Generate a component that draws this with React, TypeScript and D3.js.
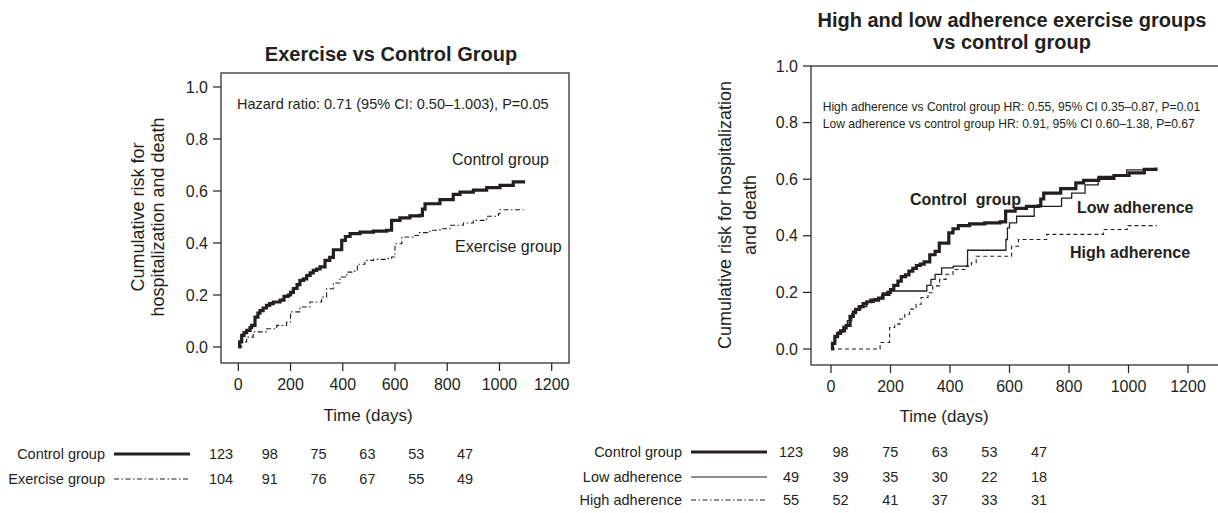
import React from 'react';
import * as d3 from 'd3';

// time axis (days) and risk axis
const dayTicks = [0, 200, 400, 600, 800, 1000, 1200];
const riskTicks = [0, 0.2, 0.4, 0.6, 0.8, 1.0];

// Kaplan-Meier style cumulative risk, [day, risk]
const controlCurve: [number, number][] = [
    [0, 0], [5, 0.02], [13, 0.045], [22, 0.055], [32, 0.064], [45, 0.075], [51, 0.083],
    [64, 0.115], [75, 0.13], [83, 0.14], [95, 0.15], [108, 0.16], [120, 0.167], [134, 0.173],
    [160, 0.18], [175, 0.195], [191, 0.2], [200, 0.21], [211, 0.225], [225, 0.24], [236, 0.256],
    [250, 0.262], [262, 0.275], [275, 0.285], [287, 0.295], [300, 0.3], [313, 0.308],
    [332, 0.333], [350, 0.345], [364, 0.374], [396, 0.41], [410, 0.425], [428, 0.436],
    [466, 0.442], [517, 0.446], [568, 0.449], [587, 0.487], [619, 0.497], [657, 0.504],
    [696, 0.506], [705, 0.53], [715, 0.551], [772, 0.567], [823, 0.587], [849, 0.596],
    [900, 0.603], [951, 0.613], [1002, 0.622], [1053, 0.635], [1092, 0.641]
];

const exerciseCurve: [number, number][] = [
    [0, 0], [13, 0.019], [32, 0.038], [57, 0.058], [109, 0.07], [147, 0.083], [185, 0.096],
    [200, 0.135], [236, 0.154], [274, 0.173], [319, 0.192], [338, 0.224], [364, 0.246],
    [389, 0.269], [415, 0.288], [440, 0.292], [456, 0.318], [485, 0.333], [517, 0.337],
    [568, 0.34], [587, 0.346], [600, 0.397], [626, 0.423], [670, 0.429], [689, 0.44],
    [734, 0.449], [772, 0.455], [811, 0.468], [862, 0.477], [900, 0.487], [951, 0.503],
    [996, 0.513], [1002, 0.528], [1092, 0.528]
];

const lowAdherenceCurve: [number, number][] = [
    [0, 0], [5, 0.02], [12, 0.04], [25, 0.06], [40, 0.08], [55, 0.1], [70, 0.125], [85, 0.14],
    [100, 0.15], [120, 0.165], [145, 0.178], [170, 0.19], [198, 0.205], [322, 0.225],
    [336, 0.246], [350, 0.264], [372, 0.287], [411, 0.293], [459, 0.349], [588, 0.387],
    [593, 0.428], [600, 0.446], [624, 0.469], [683, 0.504], [775, 0.533], [809, 0.551],
    [854, 0.58], [898, 0.61], [994, 0.633], [1095, 0.635]
];

const highAdherenceCurve: [number, number][] = [
    [0, 0], [165, 0.023], [197, 0.076], [214, 0.088], [231, 0.106], [248, 0.123], [264, 0.141],
    [286, 0.158], [303, 0.182], [326, 0.199], [342, 0.223], [365, 0.246], [387, 0.264],
    [410, 0.281], [455, 0.293], [472, 0.305], [488, 0.328], [607, 0.363], [630, 0.387],
    [725, 0.405], [916, 0.422], [996, 0.436], [1095, 0.436]
];

// numbers at risk
const riskColumns = ['0', '200', '400', '600', '800', '1000'];
const controlAtRisk = [123, 98, 75, 63, 53, 47];
const exerciseAtRisk = [104, 91, 76, 67, 55, 49];
const lowAtRisk = [49, 39, 35, 30, 22, 18];
const highAtRisk = [55, 52, 41, 37, 33, 31];

const ink = '#231f20';
const font = '"Liberation Sans", Arial, Helvetica, sans-serif';
const dashDot = '5,2.5,1.5,2.5';

const Axes = ({ x, y, box, tickY }) => (
    <g>
        <rect x={box.left} y={box.top} width={box.right - box.left} height={box.bottom - box.top}
            fill="none" stroke={ink} strokeWidth={1.2} />
        {riskTicks.map(t => (
            <g key={t}>
                <line x1={box.left - 8} x2={box.left} y1={y(t)} y2={y(t)} stroke={ink} strokeWidth={1.2} />
                <text x={box.left - 13} y={y(t) + 5.5} textAnchor="end" fontSize={16}>{t.toFixed(1)}</text>
            </g>
        ))}
        {dayTicks.map(t => (
            <g key={t}>
                <line x1={x(t)} x2={x(t)} y1={box.bottom} y2={box.bottom + 8} stroke={ink} strokeWidth={1.2} />
                <text x={x(t)} y={tickY} textAnchor="middle" fontSize={16}>{t}</text>
            </g>
        ))}
    </g>
);

const AtRiskRow = ({ label, values, cols, labelX, y, dash, width }) => (
    <g>
        <text x={labelX} y={y + 5} textAnchor="end" fontSize={14.5}>{label}</text>
        <line x1={labelX + 9} x2={labelX + 85} y1={y} y2={y} stroke={ink}
            strokeWidth={width} strokeDasharray={dash} />
        {values.map((v, i) => (
            <text key={i} x={cols(riskColumns[i])} y={y + 5} textAnchor="middle" fontSize={14.5}>{v}</text>
        ))}
    </g>
);

export default function App() {
    // left panel
    const xL = d3.scaleLinear().domain([0, 1200]).range([238.3, 551.7]);
    const yL = d3.scaleLinear().domain([0, 1]).range([347, 87]);
    const boxL = { left: 221, right: 569, top: 73, bottom: 363 };
    const lineL = d3.line<[number, number]>().x(d => xL(d[0])).y(d => yL(d[1])).curve(d3.curveStepAfter);

    // right panel
    const xR = d3.scaleLinear().domain([0, 1200]).range([831, 1188]);
    const yR = d3.scaleLinear().domain([0, 1]).range([349, 66]);
    const boxR = { left: 811, right: 1240, top: 66, bottom: 365 };
    const lineR = d3.line<[number, number]>().x(d => xR(d[0])).y(d => yR(d[1])).curve(d3.curveStepAfter);

    const colsL = d3.scalePoint().domain(riskColumns).range([221, 465]);
    const colsR = d3.scalePoint().domain(riskColumns).range([791, 1039]);

    return (
        <svg width={1218} height={513} style={{ position: 'absolute', left: 0, top: 0 }}
            fontFamily={font} fill={ink}>
            <rect width={1218} height={513} fill="#fff" />

            {/* left: exercise vs control */}
            <text x={391} y={61} textAnchor="middle" fontSize={20} fontWeight="bold">Exercise vs Control Group</text>
            <Axes x={xL} y={yL} box={boxL} tickY={390} />
            <text transform="translate(144,217) rotate(-90)" textAnchor="middle" fontSize={18}>Cumulative risk for</text>
            <text transform="translate(164,217) rotate(-90)" textAnchor="middle" fontSize={18}>hospitalization and death</text>
            <text x={237} y={108.5} fontSize={14.5}>Hazard ratio: 0.71 (95% CI: 0.50–1.003), P=0.05</text>
            <path d={lineL(exerciseCurve)} fill="none" stroke={ink} strokeWidth={1.1} strokeDasharray={dashDot} />
            <path d={lineL(controlCurve)} fill="none" stroke={ink} strokeWidth={3.2} />
            <text x={452} y={165} fontSize={16}>Control group</text>
            <text x={455} y={251.5} fontSize={16}>Exercise group</text>
            <text x={368} y={420.5} textAnchor="middle" fontSize={17}>Time (days)</text>
            <AtRiskRow label="Control group" values={controlAtRisk} cols={colsL} labelX={105} y={454} width={3} />
            <AtRiskRow label="Exercise group" values={exerciseAtRisk} cols={colsL} labelX={105} y={479} width={1} dash={dashDot} />

            {/* right: adherence groups vs control */}
            <text x={1012} y={27} textAnchor="middle" fontSize={20} fontWeight="bold">High and low adherence exercise groups</text>
            <text x={1012} y={49} textAnchor="middle" fontSize={20} fontWeight="bold">vs control group</text>
            <Axes x={xR} y={yR} box={boxR} tickY={391.5} />
            <text transform="translate(731,215) rotate(-90)" textAnchor="middle" fontSize={18}>Cumulative risk for hospitalization</text>
            <text transform="translate(756,215) rotate(-90)" textAnchor="middle" fontSize={18}>and death</text>
            <text x={822.7} y={111} fontSize={12.1}>High adherence vs Control group HR: 0.55, 95% CI 0.35–0.87, P=0.01</text>
            <text x={822.7} y={127.6} fontSize={12.1}>Low adherence vs control group HR: 0.91, 95% CI 0.60–1.38, P=0.67</text>
            <path d={lineR(highAdherenceCurve)} fill="none" stroke={ink} strokeWidth={1.1} strokeDasharray="4,3" />
            <path d={lineR(lowAdherenceCurve)} fill="none" stroke={ink} strokeWidth={1.3} />
            <path d={lineR(controlCurve)} fill="none" stroke={ink} strokeWidth={3.2} />
            <text x={910} y={204.5} fontSize={16} fontWeight="bold" style={{ whiteSpace: 'pre' }}>Control  group</text>
            <text x={1077} y={213} fontSize={16} fontWeight="bold">Low adherence</text>
            <text x={1070} y={258} fontSize={16} fontWeight="bold">High adherence</text>
            <text x={944} y={422} textAnchor="middle" fontSize={17}>Time (days)</text>
            <AtRiskRow label="Control group" values={controlAtRisk} cols={colsR} labelX={682} y={452} width={3} />
            <AtRiskRow label="Low adherence" values={lowAtRisk} cols={colsR} labelX={682} y={477} width={1.2} />
            <AtRiskRow label="High adherence" values={highAtRisk} cols={colsR} labelX={682} y={500} width={1} dash={dashDot} />
        </svg>
    );
}
